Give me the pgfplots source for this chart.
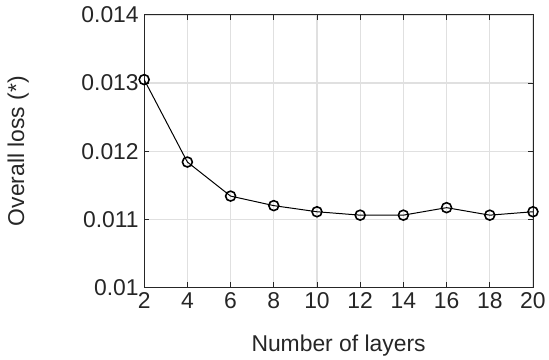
\documentclass[border=0pt]{standalone}
\usepackage{fontspec}
\setmainfont{Liberation Sans}
\usepackage{pgfplots}
\pgfplotsset{compat=1.18}
\definecolor{txt}{HTML}{262626}
\definecolor{gridc}{HTML}{E0E0E0}
\begin{document}
\begin{tikzpicture}
\begin{axis}[
  scale only axis,
  width=391pt, height=274pt,
  xmin=2, xmax=20, ymin=0.01, ymax=0.014,
  xtick={2,4,...,20},
  ytick={0.010,0.011,0.012,0.013,0.014},
  yticklabels={0.01,0.011,0.012,0.013,0.014},
  scaled y ticks=false,
  /pgf/number format/assume math mode=true,
  tick label style={font=\fontsize{23}{27}\selectfont, text=txt},
  label style={font=\fontsize{23}{27}\selectfont, text=txt},
  xlabel={Number of layers},
  ylabel={Overall loss (*)},
  grid=major,
  major grid style={gridc, line width=1.2pt},
  axis line style={txt, line width=0.9pt},
  tick style={txt, line width=0.9pt},
  tick align=inside,
  major tick length=5pt,
  xticklabel style={yshift=-2pt},
  yticklabel style={xshift=-2pt},
  xlabel style={yshift=-19pt},
  ylabel style={yshift=46pt},
]
\addplot[black, line width=1pt, mark=o, mark size=5pt, mark options={line width=1.6pt}]
coordinates {
(2,0.01305) (4,0.01184) (6,0.01134) (8,0.01120) (10,0.01111)
(12,0.01106) (14,0.01106) (16,0.01117) (18,0.01106) (20,0.01111)
};
\end{axis}
\path (current axis.south west) ++(-145pt,-69pt) rectangle ++(549pt,358pt);
\end{tikzpicture}
\end{document}
